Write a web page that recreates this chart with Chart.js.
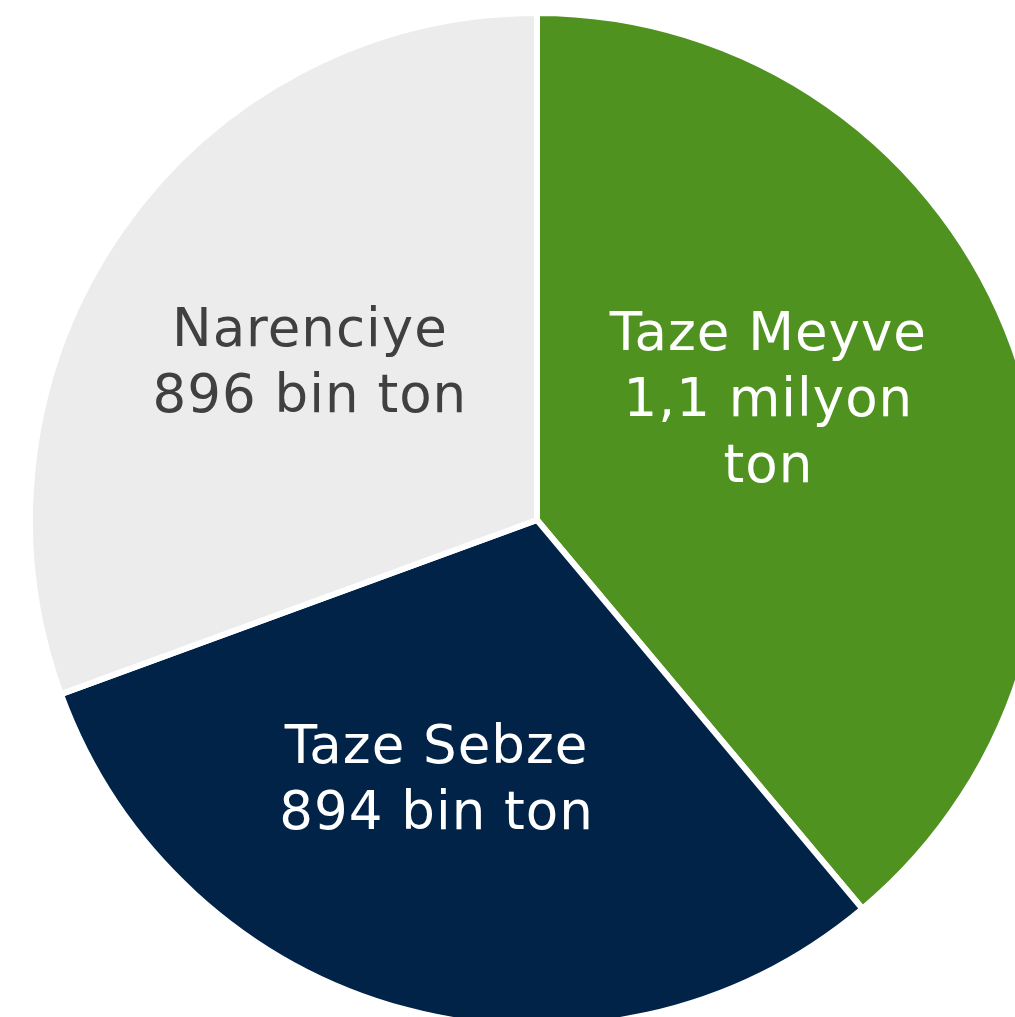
<!DOCTYPE html>
<html>
<head>
<meta charset="utf-8">
<script src="https://cdn.jsdelivr.net/npm/chart.js@4"></script>
<style>
  html, body { margin: 0; padding: 0; background: #fff; overflow: hidden; width: 1015px; height: 1017px; }
  .pie-wrap { position: absolute; left: 27px; top: 10px; width: 1020px; height: 1020px; }
</style>
</head>
<body>
<div class="pie-wrap"><canvas id="exportPie"></canvas></div>
<script>
const categories = ['Taze Meyve', 'Taze Sebze', 'Narenciye'];
const volumes = [1140, 894, 896]; // bin ton
const labelLines = [
  ['Taze Meyve', '1,1 milyon', 'ton'],
  ['Taze Sebze', '894 bin ton'],
  ['Narenciye', '896 bin ton']
];
const sliceColors = ['#4F9220', '#002347', '#ECECEC'];
const textColors = ['#ffffff', '#ffffff', '#404040'];

// where each label sits: fraction of radius + angle shift (deg) from slice middle
const placement = [
  { r: 0.512, shift: -7 },
  { r: 0.553, shift: 6 },
  { r: 0.542, shift: -0.7 }
];

const sliceLabels = {
  id: 'sliceLabels',
  afterDatasetsDraw(chart) {
    const ctx = chart.ctx;
    const arcs = chart.getDatasetMeta(0).data;
    ctx.save();
    ctx.font = '53px "DejaVu Sans"';
    ctx.letterSpacing = '1px';
    ctx.textAlign = 'center';
    ctx.textBaseline = 'middle';
    arcs.forEach((arc, i) => {
      const p = arc.getProps(['x', 'y', 'startAngle', 'endAngle', 'outerRadius'], true);
      const mid = (p.startAngle + p.endAngle) / 2 + placement[i].shift * Math.PI / 180;
      const dist = p.outerRadius * placement[i].r;
      const cx = p.x + Math.cos(mid) * dist;
      const cy = p.y + Math.sin(mid) * dist;
      const lines = labelLines[i];
      const lh = 66;
      ctx.fillStyle = textColors[i];
      lines.forEach((t, k) => {
        ctx.fillText(t, cx, cy + (k - (lines.length - 1) / 2) * lh);
      });
    });
    ctx.restore();
  }
};

new Chart(document.getElementById('exportPie'), {
  type: 'pie',
  data: {
    labels: categories,
    datasets: [{
      data: volumes,
      backgroundColor: sliceColors,
      borderColor: '#ffffff',
      borderWidth: 6
    }]
  },
  options: {
    responsive: true,
    maintainAspectRatio: false,
    animation: false,
    layout: { padding: 0 },
    plugins: {
      legend: { display: false },
      tooltip: { enabled: false }
    }
  },
  plugins: [sliceLabels]
});
</script>
</body>
</html>
